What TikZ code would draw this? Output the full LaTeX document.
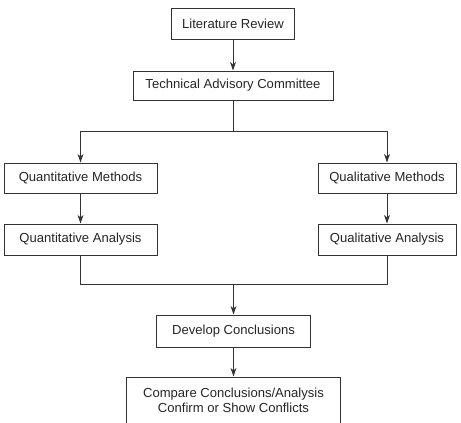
\documentclass[tikz,border=0pt]{standalone}
\usepackage{fontspec}
\setmainfont{Liberation Sans}
\usetikzlibrary{arrows.meta}
\begin{document}
\begin{tikzpicture}[x=0.75pt,y=-0.75pt,>={Stealth[length=6.5pt,width=4.5pt]},
	box/.style={draw=black!80,line width=0.75pt,fill=white,minimum height=22.5pt,inner sep=2pt,
		font=\fontsize{9.8}{10.8}\selectfont,text=black!85,align=center},
	link/.style={draw=black!80,line width=0.75pt}]
	\clip (0,0) rectangle (461,422);
	\useasboundingbox (0,0) rectangle (461,422);
	% boxes
	\node[box,minimum width=92.25pt,minimum height=23.25pt] (litrev) at (233,23.5) {Literature Review};
	\node[box,minimum width=150pt,minimum height=21.75pt] (tac) at (233,85.5) {Technical Advisory Committee};
	\node[box,minimum width=114.75pt] (quantm) at (80.5,178) {Quantitative Methods};
	\node[box,minimum width=103.5pt] (qualm) at (387,178) {Qualitative Methods};
	\node[box,minimum width=114.75pt,minimum height=23.25pt] (quanta) at (80.5,239.5) {Quantitative Analysis};
	\node[box,minimum width=103.5pt,minimum height=23.25pt] (quala) at (387,239.5) {Qualitative Analysis};
	\node[box,minimum width=115.5pt,minimum height=24pt] (develop) at (233.5,331) {Develop Conclusions};
	\node[box,minimum width=160.5pt,minimum height=35.25pt] (compare) at (233.5,400.5) {Compare Conclusions/Analysis\\Confirm or Show Conflicts};
	% branch and merge points
	\coordinate (split) at (tac.south |- 0,131);
	\coordinate (merge) at (develop.north |- 0,284);
	% connectors
	\draw[link,->] (litrev) -- (tac);
	\draw[link] (tac) -- (split);
	\draw[link,->] (split) -| (quantm.north);
	\draw[link,->] (split) -| (qualm.north);
	\draw[link,->] (quantm) -- (quanta);
	\draw[link,->] (qualm) -- (quala);
	\draw[link] (quanta.south) -- (quanta.south |- merge) -- (quala.south |- merge) -- (quala.south);
	\draw[link,->] (merge) -- (develop);
	\draw[link,->] (develop) -- (compare);
\end{tikzpicture}
\end{document}
